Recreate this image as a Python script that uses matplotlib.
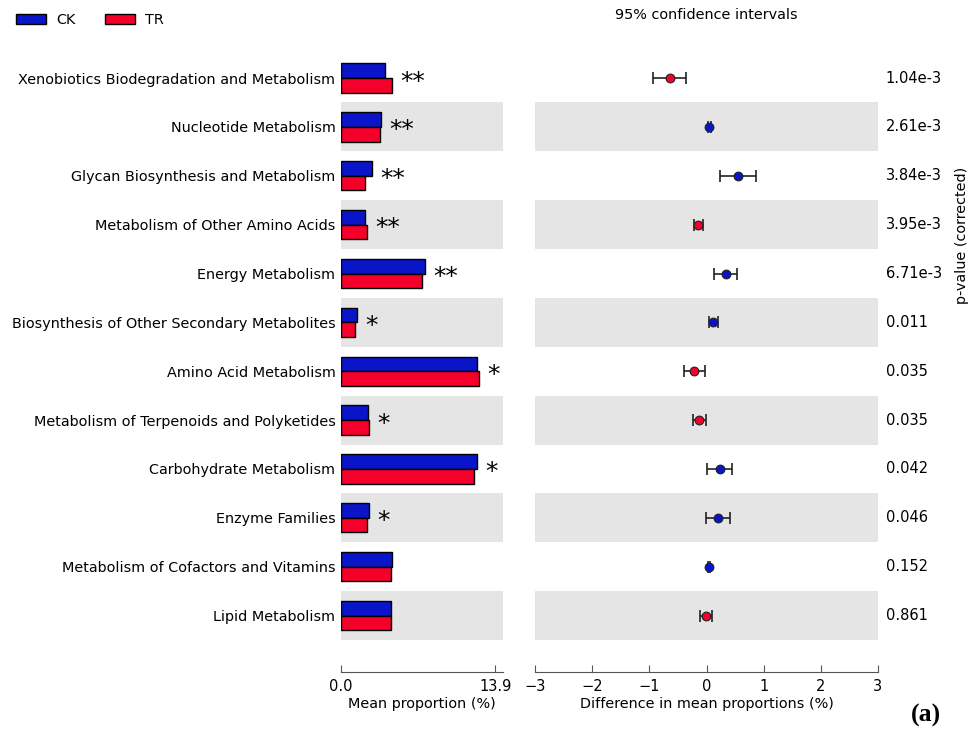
import matplotlib
matplotlib.use("Agg")
import matplotlib.pyplot as plt
from matplotlib.patches import Patch
import numpy as np

plt.rcParams['font.family'] = ['DejaVu Sans']

categories = [
    "Xenobiotics Biodegradation and Metabolism",
    "Nucleotide Metabolism",
    "Glycan Biosynthesis and Metabolism",
    "Metabolism of Other Amino Acids",
    "Energy Metabolism",
    "Biosynthesis of Other Secondary Metabolites",
    "Amino Acid Metabolism",
    "Metabolism of Terpenoids and Polyketides",
    "Carbohydrate Metabolism",
    "Enzyme Families",
    "Metabolism of Cofactors and Vitamins",
    "Lipid Metabolism",
]
ck_mean = [3.96, 3.60, 2.77, 2.16, 7.59, 1.41, 12.23, 2.41, 12.25, 2.52, 4.59, 4.50]
tr_mean = [4.57, 3.51, 2.16, 2.32, 7.27, 1.26, 12.41, 2.55, 12.01, 2.32, 4.53, 4.50]
diff = [-0.63, 0.05, 0.55, -0.14, 0.34, 0.12, -0.22, -0.13, 0.23, 0.20, 0.04, -0.01]
ci_low = [-0.93, 0.02, 0.24, -0.22, 0.13, 0.05, -0.40, -0.24, 0.01, -0.01, 0.02, -0.11]
ci_high = [-0.35, 0.08, 0.87, -0.06, 0.54, 0.20, -0.02, -0.01, 0.45, 0.41, 0.06, 0.09]
pvals = ["1.04e-3", "2.61e-3", "3.84e-3", "3.95e-3", "6.71e-3", "0.011",
         "0.035", "0.035", "0.042", "0.046", "0.152", "0.861"]
stars = ["**", "**", "**", "**", "**", "*", "*", "*", "*", "*", "", ""]
max_prop = 13.9
diff_ticks = [-3, -2, -1, 0, 1, 2, 3]

CK_COLOR = "#0a14c8"
TR_COLOR = "#f5002a"
BAND = "#e5e5e5"
SPINE = "#555555"
FS = 10.4

W, H = 972, 729
fig = plt.figure(figsize=(W / 100, H / 100), dpi=100)

def frac(l, r, t, b):
    return [l / W, 1 - b / H, (r - l) / W, (b - t) / H]

ax_bar = fig.add_axes(frac(341, 503, 53.6, 640))
ax_ci = fig.add_axes(frac(535, 878, 53.6, 640))

n = len(categories)
y = np.arange(n)
h = 0.3

for ax in (ax_bar, ax_ci):
    for i in range(n):
        if i % 2 == 1:
            ax.axhspan(i - 0.5, i + 0.5, color=BAND, lw=0, zorder=0)
    ax.set_ylim(n - 0.5, -0.5)
    for s in ("top", "right", "left"):
        ax.spines[s].set_visible(False)
    ax.spines["bottom"].set_position(("outward", 23))
    ax.spines["bottom"].set_color(SPINE)
    ax.tick_params(axis="x", direction="in", length=5, color=SPINE,
                   labelsize=FS + 0.1, pad=5)
    ax.tick_params(axis="y", length=0)

# mean proportion bars
ax_bar.barh(y - h / 2, ck_mean, height=h, color=CK_COLOR, edgecolor="black", lw=1, zorder=2)
ax_bar.barh(y + h / 2, tr_mean, height=h, color=TR_COLOR, edgecolor="black", lw=1, zorder=2)
ax_bar.set_xlim(0, max_prop * 1.05)
ax_bar.set_xticks([0, max_prop])
ax_bar.set_xticklabels(["0.0", f"{max_prop:.1f}"])
ax_bar.set_yticks(y)
ax_bar.set_yticklabels(categories, fontsize=FS)
ax_bar.tick_params(axis="y", pad=4)
ax_bar.set_xlabel("Mean proportion (%)", fontsize=FS, labelpad=2)

for i in range(n):
    if stars[i]:
        ax_bar.annotate(stars[i], xy=(max(ck_mean[i], tr_mean[i]), i),
                        xytext=(6, -2.5), textcoords="offset points",
                        ha="left", va="center", fontsize=18, zorder=3)

# confidence intervals of the difference
for i in range(n):
    col = CK_COLOR if diff[i] > 0 else TR_COLOR
    ax_ci.errorbar(diff[i], i, xerr=[[diff[i] - ci_low[i]], [ci_high[i] - diff[i]]],
                   fmt="none", ecolor="#222222", elinewidth=1.2, capsize=4,
                   capthick=1.2, zorder=2)
    ax_ci.plot(diff[i], i, "o", ms=6.3, color=col, mec="#222222", mew=0.8, zorder=3)
ax_ci.set_xlim(diff_ticks[0], diff_ticks[-1])
ax_ci.set_xticks(diff_ticks)
ax_ci.set_xticklabels([f"{t}".replace("-", "\u2212") for t in diff_ticks])
ax_ci.set_yticks([])
ax_ci.set_xlabel("Difference in mean proportions (%)", fontsize=FS, labelpad=2)
ax_ci.set_title("95% confidence intervals", fontsize=FS, y=1.0, pad=25)

for i in range(n):
    ax_ci.text(1.022, i, pvals[i], transform=ax_ci.get_yaxis_transform(),
               ha="left", va="center", fontsize=FS + 0.1)

fig.text(962 / W, 1 - 235 / H, "p-value (corrected)", rotation=90,
         ha="center", va="center", fontsize=FS)

handles = [Patch(facecolor=CK_COLOR, edgecolor="black", lw=1),
           Patch(facecolor=TR_COLOR, edgecolor="black", lw=1)]
fig.legend(handles, ["CK", "TR"], loc="upper left", bbox_to_anchor=(0.003, 1.0),
           ncol=2, frameon=False, fontsize=FS, handlelength=2.1,
           handleheight=0.75, columnspacing=2.0, handletextpad=0.7)

fig.text(926 / W, 1 - 715 / H, "(a)", fontsize=18.5, fontweight="bold",
         family="Liberation Serif", ha="center", va="center")

fig.savefig("out.png", dpi=100)
